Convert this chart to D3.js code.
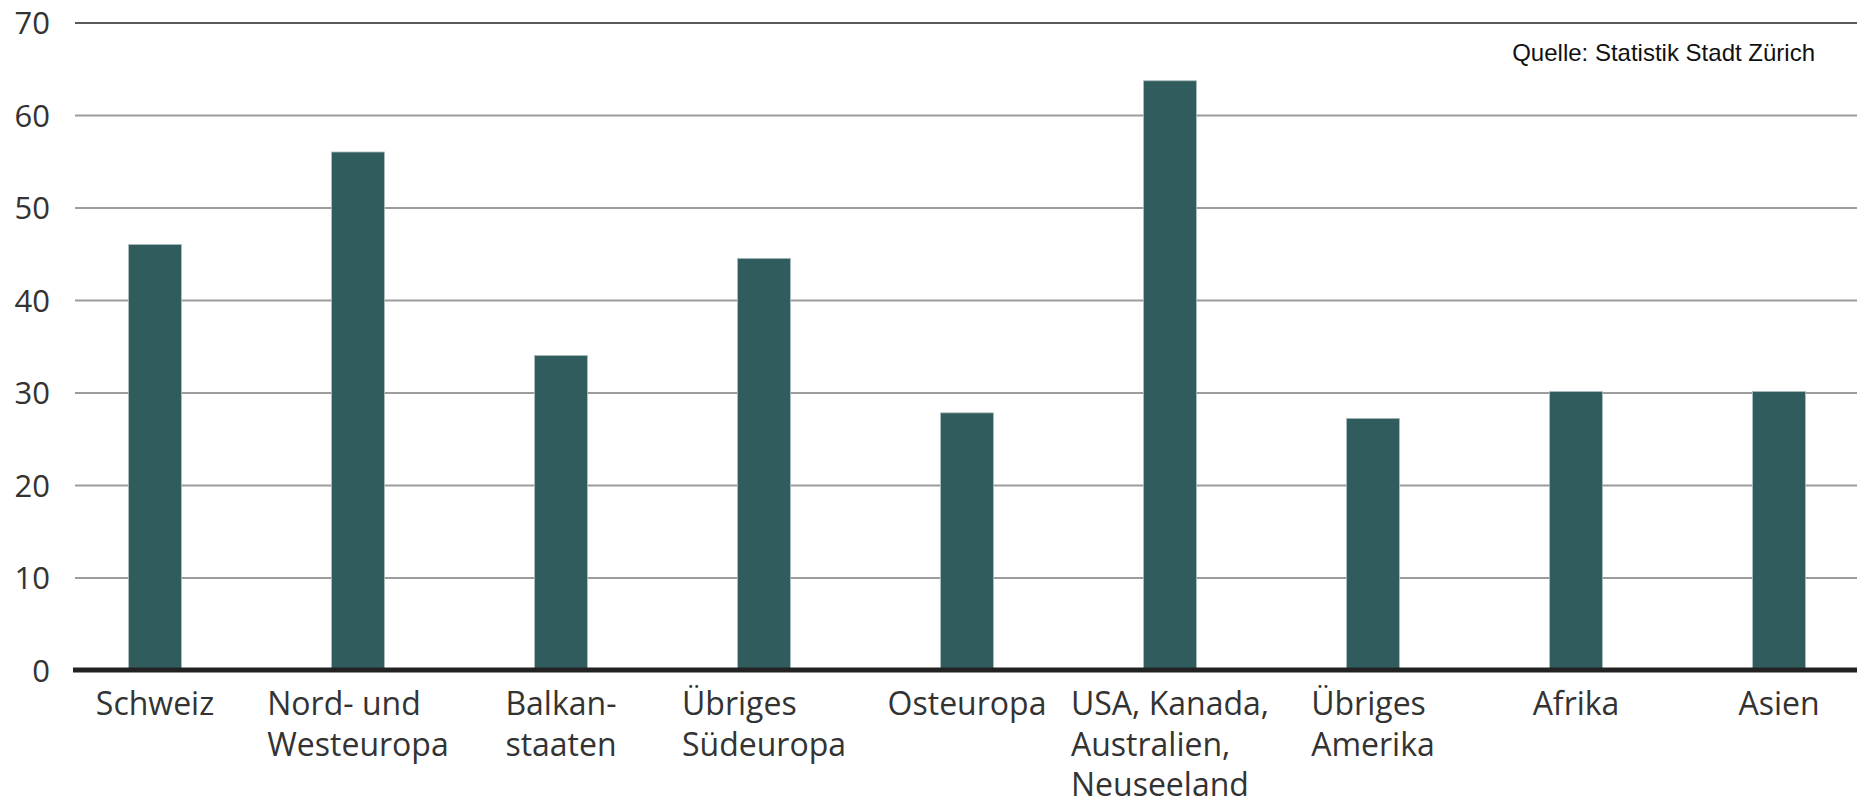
<!DOCTYPE html>
<html>
<head>
<meta charset="utf-8">
<script src="https://cdn.jsdelivr.net/npm/d3@7"></script>
<style>
  body { margin: 0; background: #fff; }
  svg { display: block; }
</style>
</head>
<body>
<div id="chart"></div>
<script>
// data
const categories = ['Schweiz', 'Nord- und\nWesteuropa', 'Balkan-\nstaaten', 'Übriges\nSüdeuropa', 'Osteuropa',
  'USA, Kanada,\nAustralien,\nNeuseeland', 'Übriges\nAmerika', 'Afrika', 'Asien']
const values = [46.0, 56.0, 34.0, 44.5, 27.8, 63.7, 27.2, 30.1, 30.1]
const yTicks = [0, 10, 20, 30, 40, 50, 60, 70]
const source = 'Quelle: Statistik Stadt Zürich'

const width = 1857
const height = 805
const plotLeft = 75
const y0 = 670
const yTop = 22.5

const svg = d3.select('#chart').append('svg')
  .attr('width', width).attr('height', height)

const x = d3.scaleBand()
  .domain(categories)
  .range([53.5, 1880.5])
  .paddingInner(0.74)
  .paddingOuter(0.37)

const y = d3.scaleLinear()
  .domain([0, 70])
  .range([y0, yTop])

// gridlines + tick labels
const yAxis = d3.axisLeft(y)
  .tickValues(yTicks)
  .tickSize(-(width - plotLeft))
  .tickPadding(25)

const yAxisG = svg.append('g')
  .attr('transform', `translate(${plotLeft},0)`)
  .call(yAxis)
yAxisG.select('.domain').remove()
yAxisG.selectAll('.tick line')
  .attr('stroke', d => d === 70 ? '#5a5a5a' : '#9c9c9c')
  .attr('stroke-width', 2)
  .attr('opacity', d => d === 0 ? 0 : 1)
yAxisG.selectAll('.tick text')
  .attr('font-family', '"Open Sans", sans-serif')
  .attr('font-size', 31)
  .attr('fill', '#333')
  .attr('dy', '0.36em')

// bars
svg.append('g').selectAll('rect')
  .data(values)
  .enter().append('rect')
  .attr('x', (d, i) => x(categories[i]))
  .attr('width', x.bandwidth())
  .attr('y', d => y(d))
  .attr('height', d => y(0) - y(d))
  .attr('fill', '#315c5e')
  .attr('stroke', '#a8babb')
  .attr('stroke-width', 0.8)

// zero line
svg.append('line')
  .attr('x1', 73).attr('x2', width)
  .attr('y1', y(0)).attr('y2', y(0))
  .attr('stroke', '#222')
  .attr('stroke-width', 5)

// category labels, multi line left aligned, block centred on the bar
const labelG = svg.append('g')
categories.forEach(c => {
  const cx = x(c) + x.bandwidth() / 2
  const lines = c.split('\n')
  const t = labelG.append('text')
    .attr('font-family', '"Open Sans", sans-serif')
    .attr('font-size', 32)
    .attr('fill', '#333')
  lines.forEach((l, i) => {
    t.append('tspan').attr('x', cx).attr('y', 715 + i * 40.5).text(l)
  })
  const w = t.node().getBBox().width
  t.selectAll('tspan').attr('x', cx - w / 2)
})

// source
svg.append('text')
  .attr('x', 1815).attr('y', 61)
  .attr('text-anchor', 'end')
  .attr('font-family', '"Liberation Sans", Arial, sans-serif')
  .attr('font-size', 24)
  .attr('fill', '#111')
  .text(source)
</script>
</body>
</html>
